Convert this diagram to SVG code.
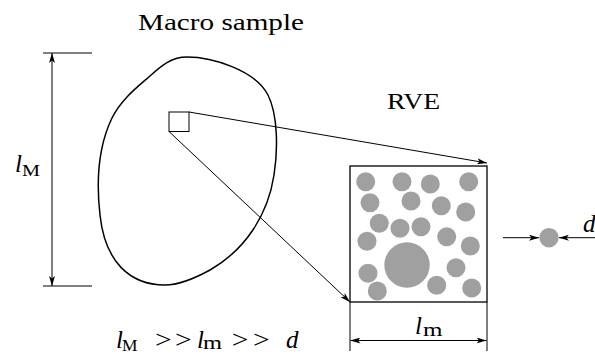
<svg xmlns="http://www.w3.org/2000/svg" width="595" height="355" viewBox="0 0 595 355">
<style>
.ln{stroke:#000;stroke-width:1;fill:none}
.blob{stroke:#000;stroke-width:1.5;fill:none}
.box{stroke:#000;stroke-width:1.3;fill:#fff}
.p{fill:#a0a0a0}
.t{font-family:"Liberation Serif","Times New Roman",serif;fill:#000}
.i{font-style:italic}
</style>
<defs>
<marker id="ah" viewBox="0 0 10 6" refX="10" refY="3" markerWidth="10" markerHeight="6" markerUnits="userSpaceOnUse" orient="auto">
<path d="M0,0 L10,3 L0,6 L2.5,3 Z" fill="#000"/>
</marker>
</defs>
<g id="title-macro"><text class="t" x="138" y="30" font-size="23" textLength="166" lengthAdjust="spacingAndGlyphs">Macro sample</text></g>
<g id="title-rve"><text class="t" x="387" y="109" font-size="23" textLength="53" lengthAdjust="spacingAndGlyphs">RVE</text></g>
<g id="macro-sample">
<path class="blob" d="M187,57 C212,57 255,70 268,95 C278,115 278,150 274,175 C268,215 245,250 210,270 C190,281 175,285 165,285 C130,285 105,262 100,215 C96,180 99,145 112,118 C122,98 140,85 150,76 C162,65 172,57 187,57 Z"/>
<rect class="ln" x="169" y="112" width="20" height="19.5" stroke-width="1.3"/>
</g>
<g id="dim-lM">
<line class="ln" x1="43" y1="53" x2="92" y2="53"/>
<line class="ln" x1="43" y1="286" x2="92" y2="286"/>
<line class="ln" x1="52" y1="169" x2="52" y2="53" marker-end="url(#ah)"/>
<line class="ln" x1="52" y1="169" x2="52" y2="286" marker-end="url(#ah)"/>
<text class="t i" x="15" y="171.7" font-size="25">l</text>
<text class="t" x="22" y="175.5" font-size="17" textLength="18" lengthAdjust="spacingAndGlyphs">M</text>
</g>
<g id="rve">
<rect class="box" x="350" y="166" width="137" height="136"/>
<g class="p">
<circle cx="365.7" cy="181.7" r="9.5"/>
<circle cx="402" cy="181.7" r="9.5"/>
<circle cx="430.3" cy="184" r="9.5"/>
<circle cx="468.7" cy="181.7" r="9.5"/>
<circle cx="370" cy="202.7" r="9.5"/>
<circle cx="411" cy="201" r="9.5"/>
<circle cx="441.3" cy="205.7" r="9.5"/>
<circle cx="465.7" cy="212" r="9.5"/>
<circle cx="379.3" cy="223.3" r="9.5"/>
<circle cx="400" cy="228.3" r="9.5"/>
<circle cx="421" cy="226.7" r="9.5"/>
<circle cx="367" cy="241.3" r="9.5"/>
<circle cx="446.7" cy="236.7" r="9.5"/>
<circle cx="470.3" cy="246" r="9.5"/>
<circle cx="407" cy="265" r="22.7"/>
<circle cx="456" cy="267.7" r="9.5"/>
<circle cx="368" cy="273.3" r="9.5"/>
<circle cx="436.7" cy="285.3" r="9.5"/>
<circle cx="471.7" cy="288" r="9.5"/>
<circle cx="377.3" cy="291" r="9.5"/>
</g>
</g>
<g id="dim-lm">
<line class="ln" x1="350" y1="302" x2="350" y2="351"/>
<line class="ln" x1="487" y1="302" x2="487" y2="351"/>
<line class="ln" x1="418" y1="340.5" x2="350.5" y2="340.5" marker-end="url(#ah)"/>
<line class="ln" x1="418" y1="340.5" x2="486.5" y2="340.5" marker-end="url(#ah)"/>
<text class="t i" x="415" y="334" font-size="25">l</text>
<text class="t" x="423" y="335.5" font-size="18" textLength="19.5" lengthAdjust="spacingAndGlyphs">m</text>
</g>
<g id="particle">
<circle class="p" cx="549" cy="237.7" r="9.7"/>
<line class="ln" x1="503" y1="237.7" x2="539" y2="237.7" marker-end="url(#ah)"/>
<line class="ln" x1="595" y1="237.7" x2="559" y2="237.7" marker-end="url(#ah)"/>
<text class="t i" x="583" y="232" font-size="25">d</text>
</g>
<g id="connectors">
<line class="ln" x1="189" y1="112" x2="487" y2="163" marker-end="url(#ah)"/>
<line class="ln" x1="169" y1="131.5" x2="350" y2="302" marker-end="url(#ah)"/>
</g>
<g id="relation">
<text class="t i" x="116" y="347.5" font-size="25">l</text>
<text class="t" x="122" y="351" font-size="17" textLength="15.5" lengthAdjust="spacingAndGlyphs">M</text>
<text class="t" x="155" y="347.5" font-size="25" textLength="16.7" lengthAdjust="spacingAndGlyphs">&gt;</text>
<text class="t" x="175" y="347.5" font-size="25" textLength="16.7" lengthAdjust="spacingAndGlyphs">&gt;</text>
<text class="t i" x="197" y="347.5" font-size="25">l</text>
<text class="t" x="203" y="349" font-size="18" textLength="19" lengthAdjust="spacingAndGlyphs">m</text>
<text class="t" x="231.7" y="347.5" font-size="25" textLength="16.7" lengthAdjust="spacingAndGlyphs">&gt;</text>
<text class="t" x="253" y="347.5" font-size="25" textLength="16.7" lengthAdjust="spacingAndGlyphs">&gt;</text>
<text class="t i" x="286" y="347.5" font-size="25">d</text>
</g>
</svg>
